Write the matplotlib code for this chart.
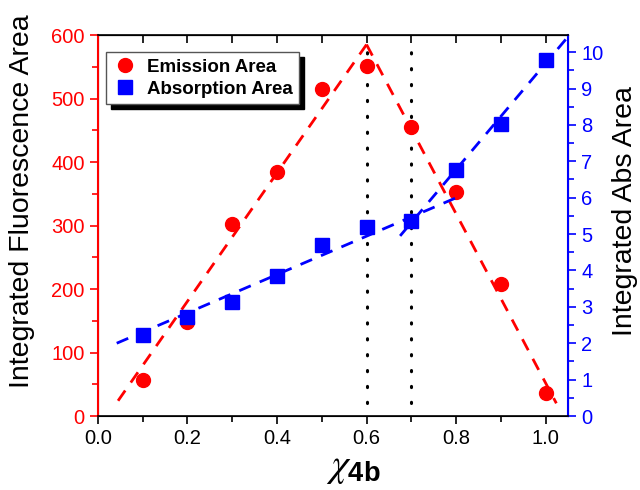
import matplotlib
matplotlib.use("Agg")
import matplotlib.pyplot as plt
from matplotlib.ticker import MultipleLocator
import numpy as np

plt.rcParams['font.family'] = ['Liberation Sans', 'DejaVu Sans']
plt.rcParams['mathtext.fontset'] = 'custom'
plt.rcParams['mathtext.it'] = 'STIXGeneral:italic'
plt.rcParams['mathtext.rm'] = 'Liberation Sans'
plt.rcParams['mathtext.bf'] = 'Liberation Sans:bold'

# mole fraction of 4b
x = [0.1, 0.2, 0.3, 0.4, 0.5, 0.6, 0.7, 0.8, 0.9, 1.0]
emission = [57, 148, 302, 385, 515, 552, 455, 353, 208, 37]
absorption = [2.22, 2.73, 3.14, 3.85, 4.70, 5.19, 5.36, 6.76, 8.03, 9.78]

# guide lines (x pairs, y pairs)
em_rise_x, em_rise_y = [0.045, 0.6], [24, 585]
em_fall_x, em_fall_y = [0.6, 1.024], [585, 20]
ab_low_x, ab_low_y = [0.042, 0.81], [2.0, 6.05]
ab_high_x, ab_high_y = [0.675, 1.045], [4.95, 10.35]
vlines = [0.6, 0.7]

fig = plt.figure(figsize=(6.4, 4.9), dpi=100)
ax = fig.add_axes([0.153, 0.151, 0.7345, 0.7775])
ax2 = ax.twinx()

red = '#ff0000'
blue = '#0000ff'

for xv in vlines:
    ax.plot([xv, xv], [20, 592], color='k', lw=2.2, dashes=(0.4, 4.8),
            dash_capstyle='round', zorder=1)

ax.plot(em_rise_x, em_rise_y, color=red, lw=2, dashes=(4.5, 3.5), zorder=2)
ax.plot(em_fall_x, em_fall_y, color=red, lw=2, dashes=(4.5, 3.5), zorder=2)
ax.plot(x, emission, 'o', color=red, ms=10, zorder=3, label='Emission Area')

ax2.plot(ab_low_x, ab_low_y, color=blue, lw=2, dashes=(4.5, 3.5), zorder=2)
ax2.plot(ab_high_x, ab_high_y, color=blue, lw=2, dashes=(4.5, 3.5), zorder=2)
ax2.plot(x, absorption, 's', color=blue, ms=9.5, zorder=3, label='Absorption Area')

ax.set_xlim(0, 1.05)
ax.set_ylim(0, 600)
ax2.set_ylim(0, 10.47)

ax.xaxis.set_major_locator(MultipleLocator(0.2))
ax.xaxis.set_minor_locator(MultipleLocator(0.1))
ax.yaxis.set_major_locator(MultipleLocator(100))
ax.yaxis.set_minor_locator(MultipleLocator(50))
ax2.yaxis.set_major_locator(MultipleLocator(1))
ax2.yaxis.set_minor_locator(MultipleLocator(0.5))
ax.xaxis.set_major_formatter(plt.FuncFormatter(lambda v, p: f'{v:.1f}'))

ax.tick_params(axis='x', which='both', direction='out', labelsize=14.5,
               top=False, width=1.2)
ax.tick_params(axis='x', which='major', length=6)
ax.tick_params(axis='x', which='minor', length=4)
ax.tick_params(axis='y', which='both', colors=red, labelsize=14.5, width=1.2)
ax.tick_params(axis='y', which='major', length=6)
ax.tick_params(axis='y', which='minor', length=4)
ax2.tick_params(axis='y', which='both', colors=blue, labelsize=14.5, width=1.2)
ax2.tick_params(axis='y', which='major', length=6)
ax2.tick_params(axis='y', which='minor', length=4)

ax2.spines['left'].set_color(red)
ax2.spines['left'].set_linewidth(1.5)
ax2.spines['right'].set_color(blue)
ax2.spines['right'].set_linewidth(1.5)
ax2.spines['top'].set_linewidth(1.2)
ax2.spines['bottom'].set_linewidth(1.2)

# inward ticks along the top edge
top = ax.secondary_xaxis('top')
top.xaxis.set_major_locator(MultipleLocator(0.1))
top.tick_params(direction='in', length=6, width=1.2, labeltop=False)

ax.set_ylabel('Integrated Fluorescence Area', fontsize=20.5)
ax.yaxis.set_label_coords(-0.134, 0.564)
ax2.set_ylabel('Integrated Abs Area', fontsize=20.5, rotation=90)
ax2.yaxis.set_label_coords(1.094, 0.538)
ax.set_xlabel(r'$\chi_{\mathbf{4b}}$', fontsize=28)
ax.xaxis.set_label_coords(0.543, -0.088)

h1, l1 = ax.get_legend_handles_labels()
h2, l2 = ax2.get_legend_handles_labels()
leg = ax2.legend(h1 + h2, l1 + l2, loc='upper left',
                 bbox_to_anchor=(-0.002, 0.98), fancybox=False,
                 prop={'weight': 'bold', 'size': 13.5}, handletextpad=0.5,
                 borderpad=0.35, labelspacing=0.25, handlelength=1.3,
                 edgecolor='#555555', framealpha=1,
                 shadow={'color': 'k', 'alpha': 1, 'ox': 3.5, 'oy': -3.5})
leg.get_frame().set_linewidth(1.0)

fig.savefig('out.png', dpi=100)
